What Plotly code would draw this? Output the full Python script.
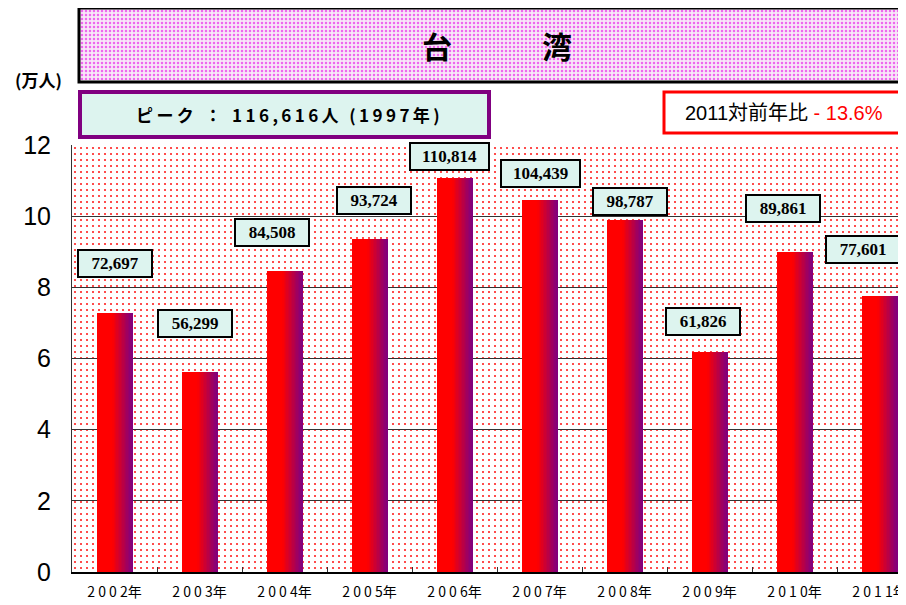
import plotly.graph_objects as go

# 台湾からの訪問者数（人）
years = ["2002年", "2003年", "2004年", "2005年", "2006年", "2007年", "2008年", "2009年", "2010年", "2011年"]
visitors = [72697, 56299, 84508, 93724, 110814, 104439, 98787, 61826, 89861, 77601]
y_ticks = [0, 2, 4, 6, 8, 10, 12]

peak_text = "ピーク ： 116,616人 (1997年)"
yoy_label = "2011対前年比"
yoy_value = "- 13.6%"

values_man = [v / 10000 for v in visitors]
labels = [f"{v:,}" for v in visitors]
tick_text = [" ".join(y[:4]) + y[4:] for y in years]

# label box placement (offset from category centre, height in 万人)
label_dx = [0.0, -0.05, -0.15, 0.05, -0.06, 0.01, 0.06, -0.08, -0.135, -0.19]
label_y = [8.67, 6.98, 9.54, 10.45, 11.69, 11.21, 10.41, 7.04, 10.22, 9.06]

# page body has an 8px margin; the figure is sized to fill the rest of the window
OFF = 8
WIN_W, WIN_H = 906, 605
W, H = WIN_W - OFF, WIN_H - OFF


def px(x):
    return (x - OFF) / W


def py(y):
    return 1 - (y - OFF) / H


plot_l, plot_t, plot_b = 72, 145, 572
band = 85.0
x_range = [-0.5, -0.5 + (WIN_W - plot_l) / band]

fig = go.Figure()

# dotted backgrounds (plot area and title box) on their own hidden axes
fig.add_trace(go.Bar(
    x=[0.5], y=[1], width=1, xaxis="x", yaxis="y",
    marker=dict(color="white", line_width=0,
                pattern=dict(shape=".", fgcolor="#ff2020", bgcolor="white",
                             size=6, solidity=0.1, fillmode="replace")),
    hoverinfo="skip", showlegend=False))
fig.add_trace(go.Bar(
    x=[0.5], y=[1], width=1, xaxis="x3", yaxis="y3",
    marker=dict(color="#f6def6", line_width=0,
                pattern=dict(shape=".", fgcolor="#ee66ee", bgcolor="#f8e6f8",
                             size=4, solidity=0.3, fillmode="replace")),
    hoverinfo="skip", showlegend=False))

# gradient bars: solid red on the left, fading to purple on the right
bw = 36 / band
solid = 0.45
fig.add_trace(go.Bar(
    x=years, y=values_man, xaxis="x2", yaxis="y2",
    offset=-bw / 2, width=bw * solid + 0.004,
    marker=dict(color="#ff0000", line_width=0),
    hoverinfo="x+y", showlegend=False))
n = 14
for i in range(n):
    t = (i + 0.5) / n
    r = int(255 + (128 - 255) * t)
    b = int(0 + 128 * t)
    start = solid + i * (1 - solid) / n
    wd = (1 - solid) / n * bw
    fig.add_trace(go.Bar(
        x=years, y=values_man, xaxis="x2", yaxis="y2",
        offset=-bw / 2 + start * bw, width=wd + (0.003 if i < n - 1 else 0),
        marker=dict(color=f"rgb({r},0,{b})", line_width=0),
        hoverinfo="skip", showlegend=False))

# value labels in boxes
for i, (yr, txt) in enumerate(zip(years, labels)):
    fig.add_annotation(
        x=i + label_dx[i], y=label_y[i], xref="x2", yref="y2",
        xanchor="center", yanchor="middle",
        text=f"<b>{txt}</b>", showarrow=False,
        font=dict(family="Liberation Serif, Times New Roman, serif", size=17, color="black"),
        bgcolor="#ddf4ef", bordercolor="black", borderwidth=2, borderpad=3,
        width=66 if len(txt) < 7 else 71, height=19)

fig.update_layout(
    width=W, height=H,
    margin=dict(l=0, r=0, t=0, b=0, autoexpand=False),
    paper_bgcolor="white", plot_bgcolor="rgba(0,0,0,0)",
    barmode="overlay", bargap=0,
    showlegend=False,
    xaxis=dict(domain=[px(plot_l), 1], range=[0, 1], visible=False, fixedrange=True, automargin=False),
    yaxis=dict(domain=[py(plot_b), py(plot_t)], range=[0, 1], visible=False, fixedrange=True, automargin=False),
    xaxis3=dict(domain=[px(80), 1], range=[0, 1], visible=False, fixedrange=True, anchor="y3", automargin=False),
    yaxis3=dict(domain=[py(80), py(9)], range=[0, 1], visible=False, fixedrange=True, anchor="x3", automargin=False),
    xaxis2=dict(domain=[px(plot_l), 1], anchor="y2", type="category", automargin=False,
                categoryorder="array", categoryarray=years,
                range=x_range, tickmode="array", tickvals=years, ticktext=tick_text,
                showline=True, linecolor="black", linewidth=2,
                ticks="inside", tickson="boundaries", ticklen=5, tickcolor="#333",
                showgrid=False, ticklabelstandoff=6,
                tickfont=dict(family="Noto Sans CJK JP", size=14, color="black")),
    yaxis2=dict(domain=[py(plot_b), py(plot_t)], anchor="x2", range=[0, 12], automargin=False,
                tickmode="array", tickvals=y_ticks,
                showgrid=True, gridcolor="#333", gridwidth=1,
                showline=True, linecolor="#333", linewidth=1,
                ticks="", ticklabelstandoff=15,
                tickfont=dict(family="Liberation Sans, Arial", size=25, color="black"),
                zeroline=False),
)

# title box
fig.add_shape(type="rect", xref="paper", yref="paper",
              x0=px(79), x1=px(WIN_W + 20), y0=py(82), y1=py(8),
              line=dict(color="black", width=3), fillcolor="rgba(0,0,0,0)")
fig.add_annotation(x=px(497), y=py(45), xref="paper", yref="paper",
                   xanchor="center", yanchor="middle",
                   text="<b>台\u3000\u3000\u3000湾</b>", showarrow=False,
                   font=dict(family="Noto Sans CJK JP", size=30, color="black"))

# unit
fig.add_annotation(x=px(38), y=py(80), xref="paper", yref="paper",
                   xanchor="center", yanchor="middle",
                   text="<b>(万人)</b>", showarrow=False,
                   font=dict(family="Noto Sans CJK JP", size=17, color="black"))

# peak box
fig.add_shape(type="rect", xref="paper", yref="paper",
              x0=px(80), x1=px(489), y0=py(137), y1=py(92),
              line=dict(color="#800080", width=4), fillcolor="#ddf4ef")
fig.add_annotation(x=px(288), y=py(114), xref="paper", yref="paper",
                   xanchor="center", yanchor="middle",
                   text="<b>" + "\u2009".join(peak_text) + "</b>", showarrow=False,
                   font=dict(family="Noto Sans CJK JP", size=17, color="black"))

# year-on-year box
fig.add_shape(type="rect", xref="paper", yref="paper",
              x0=px(664), x1=px(WIN_W + 20), y0=py(133), y1=py(92),
              line=dict(color="#ff0000", width=3), fillcolor="white")
fig.add_annotation(x=px(683), y=py(113), xref="paper", yref="paper",
                   xanchor="left", yanchor="middle",
                   text=yoy_label + " <span style='color:#ff0000'>" + yoy_value + "</span>",
                   showarrow=False,
                   font=dict(family="Liberation Sans, Noto Sans CJK JP", size=20, color="black"))

fig.write_html("out.html")
